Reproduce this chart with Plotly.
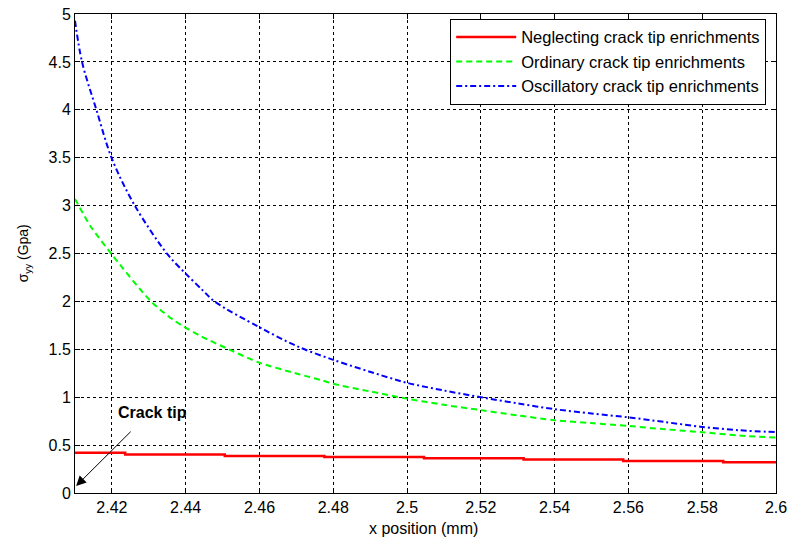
import plotly.graph_objects as go

# Neglecting crack tip enrichments (step-like)
red_x = [2.41, 2.4236, 2.4506, 2.4776, 2.5046, 2.5316, 2.5586, 2.5857, 2.6]
red_y = [0.42, 0.403, 0.385, 0.375, 0.362, 0.35, 0.333, 0.32, 0.32]

# Ordinary crack tip enrichments
green_x = [2.41, 2.4143, 2.42, 2.4306, 2.4369, 2.444, 2.4517, 2.46, 2.4707,
           2.4766, 2.48, 2.49, 2.5, 2.51, 2.52, 2.53, 2.54, 2.55, 2.56, 2.57,
           2.58, 2.59, 2.6]
green_y = [3.07, 2.78, 2.49, 2.0, 1.80, 1.64, 1.5, 1.36, 1.24,
           1.18, 1.14, 1.06, 0.985, 0.92, 0.865, 0.81, 0.76, 0.73, 0.70, 0.665,
           0.635, 0.60, 0.58]

# Oscillatory crack tip enrichments
blue_x = [2.41, 2.4119, 2.4158, 2.42, 2.4262, 2.4351, 2.44, 2.4445, 2.4478,
          2.46, 2.4703, 2.48, 2.4929, 2.5, 2.51, 2.52, 2.53, 2.54, 2.55, 2.56,
          2.57, 2.58, 2.59, 2.6]
blue_y = [4.93, 4.5, 4.0, 3.49, 3.0, 2.49, 2.29, 2.12, 2.0,
          1.73, 1.53, 1.39, 1.23, 1.15, 1.07, 1.0, 0.935, 0.875, 0.83, 0.79,
          0.74, 0.69, 0.655, 0.635]

x_ticks = [2.42, 2.44, 2.46, 2.48, 2.5, 2.52, 2.54, 2.56, 2.58, 2.6]
x_labels = ["2.42", "2.44", "2.46", "2.48", "2.5", "2.52", "2.54", "2.56", "2.58", "2.6"]
y_ticks = [0, 0.5, 1, 1.5, 2, 2.5, 3, 3.5, 4, 4.5, 5]
y_labels = ["0", "0.5", "1", "1.5", "2", "2.5", "3", "3.5", "4", "4.5", "5"]

FONT = "Liberation Sans, Arial, sans-serif"

fig = go.Figure()
fig.add_trace(go.Scatter(x=red_x, y=red_y, mode="lines", line_shape="hv",
                         name="Neglecting crack tip enrichments",
                         line=dict(color="#ff0000", width=2.5)))
fig.add_trace(go.Scatter(x=green_x, y=green_y, mode="lines",
                         name="Ordinary crack tip enrichments",
                         line=dict(color="#00ff00", width=2, dash="6px,4px",
                                   shape="spline", smoothing=0.8)))
fig.add_trace(go.Scatter(x=blue_x, y=blue_y, mode="lines",
                         name="Oscillatory crack tip enrichments",
                         line=dict(color="#0000ff", width=2, dash="6px,3px,2px,3px",
                                   shape="spline", smoothing=0.9)))

axis_common = dict(
    showline=True, linecolor="black", linewidth=1, mirror="ticks",
    ticks="inside", ticklen=5, tickcolor="black",
    showgrid=True, gridcolor="black", gridwidth=1, griddash="3px,3px",
    zeroline=False, tickfont=dict(family=FONT, size=16, color="black"),
    automargin=False,
)

fig.update_xaxes(range=[2.41, 2.6], tickvals=x_ticks, ticktext=x_labels, **axis_common)
fig.update_yaxes(range=[0, 5], tickvals=y_ticks, ticktext=y_labels, **axis_common)

fig.add_annotation(x=2.4103, y=0.073, ax=2.4255, ay=0.656, axref="x", ayref="y",
                   xref="x", yref="y", text="", showarrow=True,
                   arrowhead=2, arrowsize=2, arrowwidth=1, arrowcolor="black")
fig.add_annotation(x=2.4309, y=0.84, xref="x", yref="y", text="<b>Crack tip</b>",
                   showarrow=False, font=dict(family=FONT, size=16, color="black"))

fig.add_annotation(x=-0.073, y=0.5, xref="paper", yref="paper",
                   text="σ<sub>yy</sub> (Gpa)", textangle=-90, showarrow=False,
                   xanchor="center", yanchor="middle",
                   font=dict(family=FONT, size=14, color="black"))
fig.add_annotation(x=0.497, y=-0.075, xref="paper", yref="paper",
                   text="x position (mm)", showarrow=False,
                   xanchor="center", yanchor="middle",
                   font=dict(family=FONT, size=16, color="black"))

fig.update_layout(
    width=788, height=541,
    margin=dict(l=75, r=12, t=14, b=48, autoexpand=False),
    paper_bgcolor="white", plot_bgcolor="white",
    showlegend=True,
    legend=dict(x=0.986, y=0.99, xanchor="right", yanchor="top",
                bgcolor="white", bordercolor="black", borderwidth=1,
                font=dict(family=FONT, size=16.5, color="black"),
                itemwidth=60, tracegroupgap=0),
)

fig.write_html("out.html")
